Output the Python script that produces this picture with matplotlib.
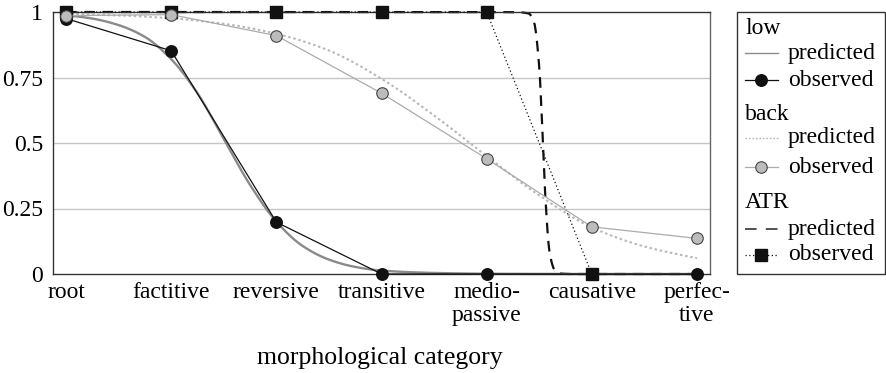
import numpy as np
import matplotlib
matplotlib.use("Agg")
import matplotlib.pyplot as plt
from matplotlib.lines import Line2D
from matplotlib.patches import Rectangle

plt.rcParams['font.family'] = ['Liberation Serif', 'DejaVu Serif']

# ---- data -------------------------------------------------------------
categories = ["root", "factitive", "reversive", "transitive",
              "medio-\npassive", "causative", "perfec-\ntive"]
y_ticks = [0, 0.25, 0.5, 0.75, 1]
y_tick_labels = ["0", "0.25", "0.5", "0.75", "1"]

low_observed = [0.975, 0.852, 0.198, 0.0, 0.0, 0.0, 0.0]
back_observed = [0.986, 0.99, 0.91, 0.69, 0.44, 0.18, 0.136]
atr_observed = [1, 1, 1, 1, 1, 0, np.nan]

# model predictions, sampled along the category axis
low_pred_x = [0, 0.25, 0.5, 0.75, 1, 1.25, 1.5, 1.75, 2, 2.25, 2.5, 2.75,
              3, 3.5, 4, 5, 6]
low_predicted = [0.988, 0.975, 0.95, 0.905, 0.82, 0.69, 0.515, 0.34, 0.2,
                 0.107, 0.055, 0.027, 0.013, 0.004, 0.001, 0.0, 0.0]

back_pred_x = [0, 0.5, 1, 1.5, 2, 2.5, 3, 3.5, 4, 4.5, 5, 5.5, 6]
back_predicted = [0.993, 0.987, 0.976, 0.955, 0.917, 0.853, 0.745, 0.605,
                  0.45, 0.30, 0.178, 0.105, 0.06]

atr_pred_x = [0, 1, 2, 3, 4, 4.3, 4.4, 4.45, 4.5, 4.53, 4.56, 4.6, 4.65,
              4.7, 4.8, 5, 6]
atr_predicted = [1, 1, 1, 1, 1, 0.999, 0.994, 0.962, 0.79, 0.55, 0.28,
                 0.078, 0.013, 0.002, 0.0, 0.0, 0.0]


def smooth(x, y, n=600):
    """Monotone cubic (Fritsch-Carlson) curve through the sampled points."""
    x = np.asarray(x, float)
    y = np.asarray(y, float)
    h = np.diff(x)
    delta = np.diff(y) / h
    d = np.zeros_like(y)
    for k in range(1, len(x) - 1):
        if delta[k - 1] * delta[k] > 0:
            w1 = 2 * h[k] + h[k - 1]
            w2 = h[k] + 2 * h[k - 1]
            d[k] = (w1 + w2) / (w1 / delta[k - 1] + w2 / delta[k])
    d[0] = delta[0]
    d[-1] = delta[-1]
    xs = np.linspace(x[0], x[-1], n)
    idx = np.clip(np.searchsorted(x, xs, side="right") - 1, 0, len(x) - 2)
    t = (xs - x[idx]) / h[idx]
    h00 = 2 * t**3 - 3 * t**2 + 1
    h10 = t**3 - 2 * t**2 + t
    h01 = -2 * t**3 + 3 * t**2
    h11 = t**3 - t**2
    ys = (h00 * y[idx] + h10 * h[idx] * d[idx] + h01 * y[idx + 1]
          + h11 * h[idx] * d[idx + 1])
    return xs, ys


W, H = 886, 373
fig = plt.figure(figsize=(W / 100, H / 100), dpi=100)
ax = fig.add_axes([53 / W, 1 - 274 / H, (710 - 53) / W, (274 - 12) / H])

xpos = np.arange(len(categories))

# styles
c_low_pred = "#8a8a8a"
c_back_pred = "#b8b8b8"
c_back_obs_line = "#ababab"
c_back_face = "#bcbcbc"
atr_dash = (4.8, 3.4)

# grid
for g in [0.25, 0.5, 0.75]:
    ax.axhline(g, color="#c6c6c6", lw=1.0, zorder=0)

# ATR
ax.plot(*smooth(atr_pred_x, atr_predicted), color="#111111", lw=1.6,
        dashes=atr_dash, zorder=2, clip_on=False)
ax.plot(xpos, atr_observed, color="#111111", lw=0.9, ls=(0, (1, 2)),
        marker="s", ms=8.5, mfc="#111111", mec="#111111", zorder=4,
        clip_on=False)

# low
ax.plot(*smooth(low_pred_x, low_predicted), color=c_low_pred, lw=1.7,
        zorder=2.5, clip_on=False)
ax.plot(xpos, low_observed, color="#111111", lw=0.9, marker="o", ms=8.3,
        mfc="#111111", mec="#111111", zorder=3, clip_on=False)

# back
ax.plot(*smooth(back_pred_x, back_predicted), color=c_back_pred, lw=1.5,
        ls=(0, (1.2, 1.3)), zorder=2.2, clip_on=False)
ax.plot(xpos, back_observed, color=c_back_obs_line, lw=0.9, marker="o",
        ms=8.3, mfc=c_back_face, mec="#444444", mew=0.8, zorder=5,
        clip_on=False)

ax.set_xlim(-0.124, 6.124)
ax.set_ylim(0, 1)
ax.set_xticks(xpos)
ax.set_xticklabels(categories, fontsize=17, linespacing=1.12)
ax.set_yticks(y_ticks)
ax.set_yticklabels(y_tick_labels, fontsize=17)
ax.tick_params(length=0)
ax.tick_params(axis="x", pad=6)
ax.tick_params(axis="y", pad=7)
for s in ["left", "bottom", "top"]:
    ax.spines[s].set_color("#333333")
    ax.spines[s].set_linewidth(1.0)
ax.spines["right"].set_color("#666666")
ax.spines["right"].set_linewidth(1.0)

fig.text(380 / W, 1 - 358 / H, "morphological category", fontsize=18.5,
         ha="center", va="center")


# ---- legend drawn in figure pixel space ----------------------------------
def fx(px):
    return px / W


def fy(py):
    return 1 - py / H


tf = fig.transFigure
fig.add_artist(Rectangle((fx(737), fy(274)), fx(885) - fx(737),
                         fy(12) - fy(274), transform=tf, fill=False,
                         ec="#333333", lw=1.0))

hx0, hx1, hm = 745, 778, 761
tx = 788
fs = 17
rows = [
    ("low", 29, None),
    ("predicted", 53, dict(color=c_low_pred, lw=1.0)),
    ("observed", 80, dict(color="#111111", lw=0.9, marker="o", ms=8.3,
                          mfc="#111111", mec="#111111")),
    ("back", 115, None),
    ("predicted", 138, dict(color=c_back_pred, lw=1.0, ls=(0, (1.2, 1.3)))),
    ("observed", 167, dict(color=c_back_obs_line, lw=0.9, marker="o",
                           ms=8.3, mfc=c_back_face, mec="#444444", mew=0.8)),
    ("ATR", 203, None),
    ("predicted", 229, dict(color="#333333", lw=1.2, dashes=(7, 5.5))),
    ("observed", 255, dict(color="#111111", lw=0.9, ls=(0, (1, 2)),
                           marker="s", ms=8.5, mfc="#111111",
                           mec="#111111")),
]
for label, yc, style in rows:
    if style is None:
        fig.text(fx(hx0), fy(yc), label, fontsize=fs, ha="left",
                 va="center")
        continue
    marker = style.pop("marker", None)
    ms = style.pop("ms", None)
    mfc = style.pop("mfc", None)
    mec = style.pop("mec", None)
    mew = style.pop("mew", 1.0)
    fig.add_artist(Line2D([fx(hx0), fx(hx1)], [fy(yc), fy(yc)],
                          transform=tf, **style))
    if marker is not None:
        fig.add_artist(Line2D([fx(hm)], [fy(yc)], transform=tf,
                              marker=marker, ms=ms, mfc=mfc, mec=mec,
                              mew=mew, ls="none"))
    fig.text(fx(tx), fy(yc), label, fontsize=fs, ha="left", va="center")

fig.savefig("out.png", dpi=100)
